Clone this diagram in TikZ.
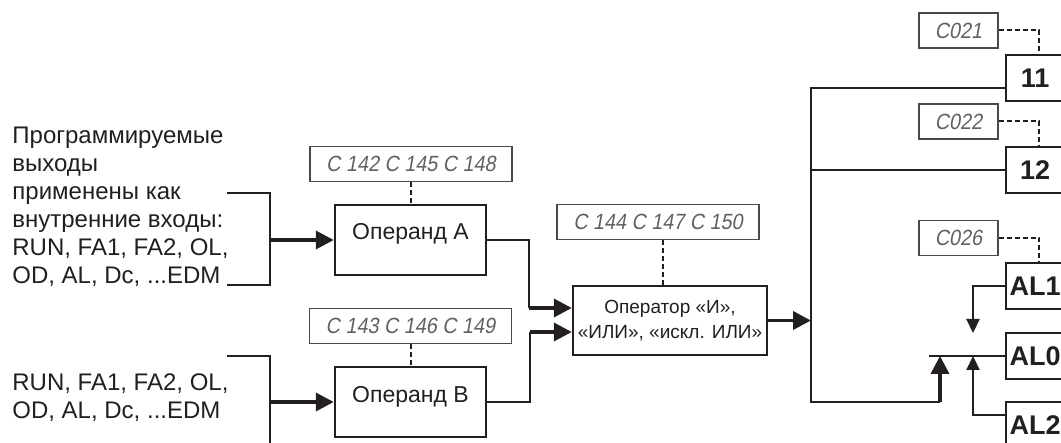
\documentclass[tikz,border=0pt]{standalone}
\usepackage{fontspec}
\setmainfont{Liberation Sans}
\newfontfamily\segfont[FakeStretch=0.9,FakeSlant=0.18]{Liberation Sans}
\usetikzlibrary{arrows.meta}
\definecolor{BKInk}{HTML}{231F20}
\definecolor{BKSeg}{HTML}{606060}
\definecolor{BKFrame}{HTML}{4A4A4A}
\tikzset{
  blk/.style={draw=BKInk,line width=1.2pt,text=BKInk},
  opbox/.style={blk,minimum width=75.5pt,minimum height=35pt,text height=8.5pt,text depth=8.5pt,font=\fontsize{11.5}{13}\selectfont},
  logbox/.style={blk,minimum width=97pt,minimum height=34.5pt,align=center,inner sep=1pt,font=\fontsize{9.5}{12.5}\selectfont},
  outbox/.style={blk,anchor=west,minimum height=23pt,text width=29pt,align=center,inner xsep=0pt,font=\fontsize{13.5}{15}\selectfont\bfseries},
  parbox/.style={draw=BKFrame,line width=0.65pt,minimum height=17.5pt,inner sep=0pt,text=BKSeg,font=\segfont\fontsize{11}{12}\selectfont},
  note/.style={anchor=west,align=left,inner sep=0pt,text=BKInk,font=\fontsize{12}{14}\selectfont},
  wire/.style={draw=BKInk,line width=1.1pt},
  feed/.style={draw=BKInk,line width=1.8pt,-{Triangle[length=9pt,width=9pt]}},
  tap/.style={wire,-{Triangle[length=7pt,width=6.5pt]}},
  dashln/.style={draw=BKInk,line width=1pt,dash pattern=on 2.5pt off 1.5pt}
}

\begin{document}
\begin{tikzpicture}[x=0.5pt,y=-0.5pt]
\clip (0,0) rectangle (1061,443);
\node[note] (inA) at (12,207) {Программируемые\\выходы\\применены как\\внутренние входы:\\RUN, FA1, FA2, OL,\\OD, AL, Dc, ...EDM};
\node[note] (inB) at (12,398) {RUN, FA1, FA2, OL,\\OD, AL, Dc, ...EDM};
\node[opbox] (opA) at (410.5,240) {Операнд А};
\node[opbox] (opB) at (410.5,402) {Операнд В};
\node[parbox,minimum width=101pt] (pA) at (411,164) {C 142 C 145 C 148};
\node[parbox,minimum width=101pt] (pB) at (410.5,326) {C 143 C 146 C 149};
\node[logbox] (oper) at (670,320.5) {Оператор «И»,\\«ИЛИ», «искл. ИЛИ»};
\node[parbox,minimum width=101pt] (pOp) at (658,222) {C 144 C 147 C 150};
\node[outbox] (o11) at (1005,78) {11};
\node[outbox] (o12) at (1005,170) {12};
\node[outbox] (oAL1) at (1005,286) {AL1};
\node[outbox] (oAL0) at (1005,356) {AL0};
\node[outbox] (oAL2) at (1005,425) {AL2};
\node[parbox,minimum width=39.5pt] (p21) at (958.5,30.5) {C021};
\node[parbox,minimum width=39.5pt] (p22) at (958.5,121.5) {C022};
\node[parbox,minimum width=39.5pt] (p26) at (958.5,238) {C026};
\coordinate (aTop) at (227,193);
\coordinate (aMid) at (270,240);
\coordinate (aBot) at (227,285);
\coordinate (bTop) at (227,356);
\coordinate (bMid) at (270,402);
\coordinate (bEnd) at (270,450);
\draw[wire] (aTop) -| (aMid) |- (aBot);
\draw[feed] (aMid) -- (opA);
\draw[wire] (bTop) -| (bEnd);
\draw[feed] (bMid) -- (opB);
\coordinate (jA) at (529,308);
\coordinate (jB) at (530,332);
\draw[wire] (opA.east) -| (jA);
\draw[feed] (jA) -- (jA -| oper.west);
\draw[wire] (opB.east) -| (jB);
\draw[feed] (jB) -- (jB -| oper.west);
\coordinate (t11) at (1005,88);
\coordinate (busT) at (811,88);
\coordinate (busB) at (811,402);
\coordinate (mB) at (940,402);
\coordinate (mUp) at (940,356);
\draw[feed] (oper.east) -- (oper.east -| busT);
\draw[wire] (t11) -- (busT) -- (busB) -- (mB);
\draw[wire] (o12.west) -- (o12.west -| busT);
\draw[feed] (mB) -- (mUp);
\coordinate (l0) at (929,356);
\draw[wire] (l0) -- (oAL0.west);
\coordinate (k1) at (973,333);
\draw[tap] (oAL1.west) -| (k1);
\coordinate (t2) at (1005,415);
\coordinate (k2) at (973,356);
\draw[tap] (t2) -| (k2);
\draw[dashln] (pA.south) -- (pA.south |- opA.north);
\draw[dashln] (pB.south) -- (pB.south |- opB.north);
\draw[dashln] ([xshift=2.5pt]pOp.south) -- ([xshift=2.5pt]pOp.south |- oper.north);
\draw[dashln] (p21.east) -| ([xshift=2pt]o11.north);
\draw[dashln] (p22.east) -| ([xshift=2pt]o12.north);
\draw[dashln] (p26.east) -| ([xshift=2pt]oAL1.north);
\end{tikzpicture}
\end{document}
